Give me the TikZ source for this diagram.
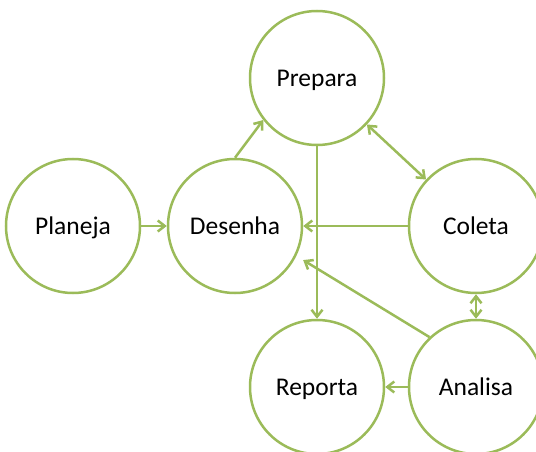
\documentclass[tikz,border=0pt]{standalone}
\usepackage{fontspec}
\setmainfont{Carlito}
\usetikzlibrary{arrows.meta}
\definecolor{leaf}{HTML}{9BBB59}
\begin{document}
\begin{tikzpicture}[x=1pt,y=-1pt,
  stage/.style={circle, draw=leaf, line width=2.5pt, minimum size=134pt, inner sep=0pt,
    font=\fontsize{25.5}{30}\selectfont, text=black, text height=16.5pt, text depth=0pt},
  flow/.style={draw=leaf, line width=2.5pt, -{Straight Barb[length=7pt,width=11pt]}},
  both/.style={draw=leaf, line width=2.5pt, {Straight Barb[length=7pt,width=11pt]}-{Straight Barb[length=7pt,width=11pt]}}]
  \clip (0,0) rectangle (536,452);
  % the six stages
  \node[stage] (plan) at (73,226) {Planeja};
  \node[stage] (des)  at (235,226) {Desenha};
  \node[stage] (prep) at (317,78) {Prepara};
  \node[stage] (col)  at (476,226) {Coleta};
  \node[stage] (rep)  at (317,387) {Reporta};
  \node[stage] (ana)  at (476,387) {Analisa};
  % connectors
  \draw[flow] (plan) -- (des);
  \draw[flow] (des.90) -- (prep.218);
  \draw[both] (prep) -- (col);
  \draw[flow] (col) -- (des);
  \draw[flow] (prep) -- (rep);
  \draw[both] (col) -- (ana);
  \draw[flow] (ana) -- (rep);
  \draw[flow, shorten >=8pt] (ana.133) -- (des.-26);
\end{tikzpicture}
\end{document}
